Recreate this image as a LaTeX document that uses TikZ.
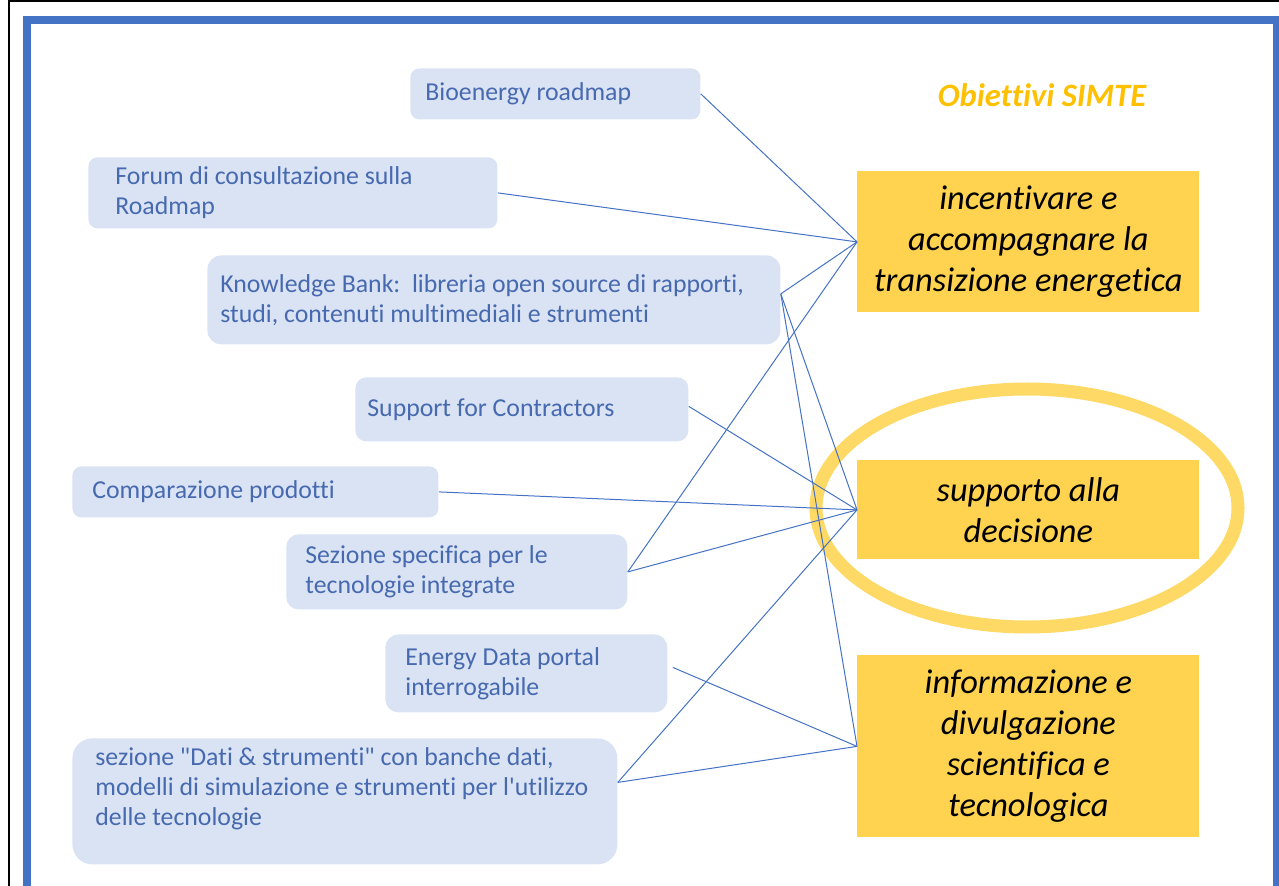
\documentclass[tikz,border=0pt]{standalone}
\usepackage{fontspec}
\setmainfont{Carlito}[Ligatures={CommonOff,TeXOff}]
\definecolor{frameblue}{HTML}{4472C4}
\definecolor{boxblue}{HTML}{DAE3F3}
\definecolor{txtblue}{HTML}{4669B0}
\definecolor{objyellow}{HTML}{FFD34F}
\definecolor{ringyellow}{HTML}{FFD966}
\definecolor{titlegold}{HTML}{FFC000}
\tikzset{
	srcbox/.style={fill=boxblue, rounded corners=4.5pt, anchor=north west, align=flush left, inner ysep=0pt, text=txtblue, font=\fontsize{12.9}{15}\selectfont\frenchspacing},
	objbox/.style={fill=objyellow, anchor=north west, minimum width=171pt, align=center, font=\fontsize{17.2}{20.5}\selectfont\itshape},
	link/.style={frameblue, line width=0.5pt},
}
\begin{document}
\begin{tikzpicture}[x=0.5pt,y=-0.5pt]
		\useasboundingbox (0,0) rectangle (1279,886);
		\clip (0,0) rectangle (1279,886);

		% frames
		\draw [line width=1.2pt] (9,900) -- (9,1) -- (1290,1);
		\draw [frameblue, line width=4pt] (27,900) -- (27,20) -- (1277,20) -- (1277,900);

		% ring round the second goal
		\draw [ringyellow, line width=6.5pt] (1027,508) ellipse [x radius=105.5pt, y radius=59.5pt];

		% tools
		\node[srcbox, inner xsep=7.5pt, text width=130pt, minimum height=25.5pt] (bio) at (410,68) {Bioenergy roadmap};
		\node[srcbox, inner xsep=13.5pt, text width=177.5pt, minimum height=35.5pt] (forum) at (88,157) {Forum di consultazione sulla\\Roadmap};
		\node[srcbox, inner xsep=6.5pt, text width=273.5pt, minimum height=44.5pt, rounded corners=7pt] (kb) at (207,255) {Knowledge Bank:~ libreria open source di rapporti,\\studi, contenuti multimediali e strumenti};
		\node[srcbox, inner xsep=6pt, text width=154.5pt, minimum height=32pt, rounded corners=5.5pt] (supp) at (355,377) {Support for Contractors};
		\node[srcbox, inner xsep=10pt, text width=163pt, minimum height=25.5pt] (comp) at (72,466) {Comparazione prodotti};
		\node[srcbox, inner xsep=9.5pt, text width=151.5pt, minimum height=37.5pt, rounded corners=6pt] (sez) at (286,534) {Sezione specifica per le\\tecnologie integrate};
		\node[srcbox, inner xsep=10pt, text width=121pt, minimum height=39pt, rounded corners=6.5pt] (energy) at (385,634) {Energy Data portal\\interrogabile};
		\node[srcbox, inner xsep=11.5pt, text width=249.5pt, minimum height=63pt, rounded corners=10pt] (dati) at (72,738) {sezione "Dati \& strumenti" con banche dati,\\modelli di simulazione e strumenti per l'utilizzo\\delle tecnologie\\\mbox{}};

		% goals
		\node[font=\fontsize{16.3}{19}\selectfont\bfseries\itshape, text=titlegold] (title) at (1042,95) {Obiettivi SIMTE};
		\node[objbox, minimum height=70.5pt] (obj1) at (857,171) {incentivare e\\accompagnare la\\transizione energetica};
		\node[objbox, minimum height=49.5pt] (obj2) at (857,460) {supporto alla\\decisione};
		\node[objbox, minimum height=91pt] (obj3) at (857,655) {informazione e\\divulgazione\\scientifica e\\tecnologica};

		% links
		\draw [link] (bio.east) -- (obj1.west);
		\draw [link] (forum.east) -- (obj1.west);
		\draw [link] ([yshift=3pt]kb.east) -- (obj1.west);
		\draw [link] ([yshift=3pt]kb.east) -- (obj2.west);
		\draw [link] ([yshift=3pt]kb.east) -- (obj3.west);
		\draw [link] ([yshift=1.5pt]supp.east) -- (obj2.west);
		\draw [link] (comp.east) -- (obj2.west);
		\draw [link] (sez.east) -- (obj1.west);
		\draw [link] (sez.east) -- (obj2.west);
		\draw [link] ([xshift=2.5pt,yshift=3pt]energy.east) -- (obj3.west);
		\draw [link] ([yshift=9.5pt]dati.east) -- (obj2.west);
		\draw [link] ([yshift=9.5pt]dati.east) -- (obj3.west);

	\end{tikzpicture}
\end{document}
